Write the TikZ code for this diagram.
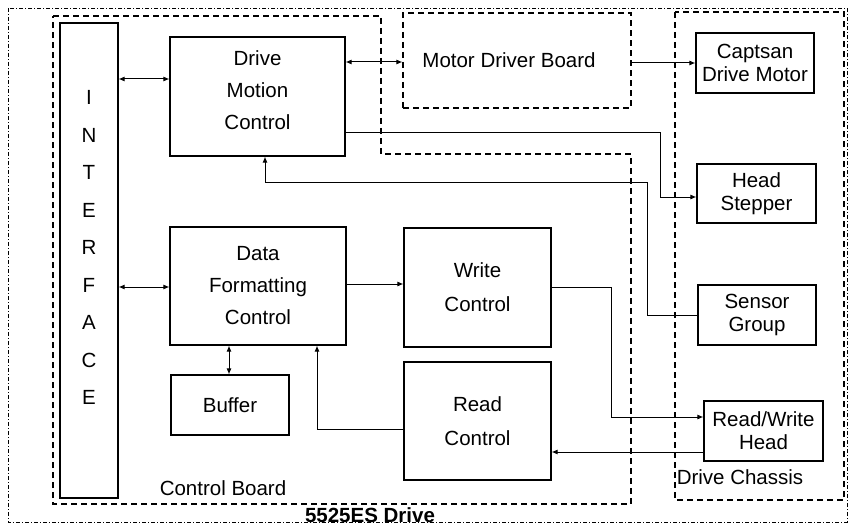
\documentclass[tikz,border=0pt]{standalone}
\usepackage{fontspec}
\setmainfont{Liberation Sans}
\usetikzlibrary{arrows.meta}
\begin{document}
\begin{tikzpicture}[x=1pt,y=-1pt,
  box/.style={draw, line width=1.1pt, rectangle, inner sep=0pt, align=center},
  big/.style={box, font=\fontsize{20.5}{32}\selectfont},
  small/.style={box, font=\fontsize{20.5}{23}\selectfont},
  grp/.style={draw, line width=1.1pt, dash pattern=on 6pt off 4pt},
  outer/.style={draw, line width=0.8pt, dash pattern=on 4pt off 2pt on 1pt off 2pt},
  arr/.style={line width=1pt, -{Latex[length=6pt,width=5pt]}},
  darr/.style={line width=1pt, {Latex[length=6pt,width=5pt]}-{Latex[length=6pt,width=5pt]}},
  lbl/.style={font=\fontsize{20.5}{24}\selectfont, inner sep=0pt}]
\useasboundingbox (0,0) rectangle (849,527);

% outer drive boundary
\draw[outer] (8,8) rectangle (847,522);
% control board
\draw[grp] (53,16) -- (381,16) -- (381,154) -- (631,154) -- (631,504) -- (53,504) -- cycle;
% drive chassis
\draw[grp] (675,12) rectangle (844,500);
% motor driver board
\node[grp, minimum width=228pt, minimum height=95pt, inner sep=0pt,
  label={[lbl, xshift=-8pt]center:Motor Driver Board}] (mdb) at (517,60.5) {};

% interface
\node[box, minimum width=58pt, minimum height=475pt,
  label={[font=\fontsize{20.5}{37.5}\selectfont, align=center, inner sep=0pt, yshift=13pt]center:I\\N\\T\\E\\R\\F\\A\\C\\E}] (iface) at (89,260.5) {};

\node[box, minimum width=175pt, minimum height=119pt,
  label={[font=\fontsize{20.5}{32}\selectfont, align=center, inner sep=0pt, yshift=6pt]center:Drive\\Motion\\Control}] (dmc) at (257.5,96.5) {};
\node[big, minimum width=176pt, minimum height=118pt] (dfc) at (258,286) {Data\\Formatting\\Control};
\node[big, minimum width=118pt, minimum height=60pt] (buf) at (230,405) {Buffer};
\node[big, font=\fontsize{20.5}{34}\selectfont, minimum width=147pt, minimum height=119pt] (wc) at (477.5,287.5) {Write\\Control};
\node[big, font=\fontsize{20.5}{34}\selectfont, minimum width=147pt, minimum height=118pt] (rc) at (477.5,421) {Read\\Control};

\node[small, minimum width=118pt, minimum height=60pt] (cdm) at (755,63) {Captsan\\Drive Motor};
\node[small, minimum width=119pt, minimum height=59pt] (hs) at (756.5,193.5) {Head\\Stepper};
\node[small, minimum width=118pt, minimum height=60pt] (sg) at (757,315) {Sensor\\Group};
\node[small, minimum width=119pt, minimum height=60pt] (rwh) at (763.5,431) {Read/Write\\Head};

% labels
\node[lbl] (cbl) at (223,488) {Control Board};
\node[lbl] (dcl) at (740,477) {Drive Chassis};
\node[lbl, font=\fontsize{20.5}{24}\selectfont\bfseries] (drl) at (370,515) {5525ES Drive};

% connectors
\draw[darr] (iface.east |- 0,79) -- (dmc.west |- 0,79);
\draw[darr] (dmc.east |- 0,62) -- (mdb.west |- 0,62);
\draw[arr] (mdb.east |- 0,63) -- (cdm.west |- 0,63);
\draw[arr] (dmc.east |- 0,132) -| (660,197) -- (hs.west |- 0,197);
\draw[arr] (sg.west) -| (647,182) -| (dmc.south -| 265,0);
\draw[darr] (iface.east |- 0,287) -- (dfc.west |- 0,287);
\draw[arr] (dfc.east |- 0,284) -- (wc.west |- 0,284);
\draw[arr] (wc.east |- 0,287) -| (611,417) -- (rwh.west |- 0,417);
\draw[arr] (rwh.west |- 0,452) -- (rc.east |- 0,452);
\draw[arr] (rc.west |- 0,429) -| (dfc.south -| 317,0);
\draw[darr] (dfc.south -| 229,0) -- (buf.north -| 229,0);
\end{tikzpicture}
\end{document}
